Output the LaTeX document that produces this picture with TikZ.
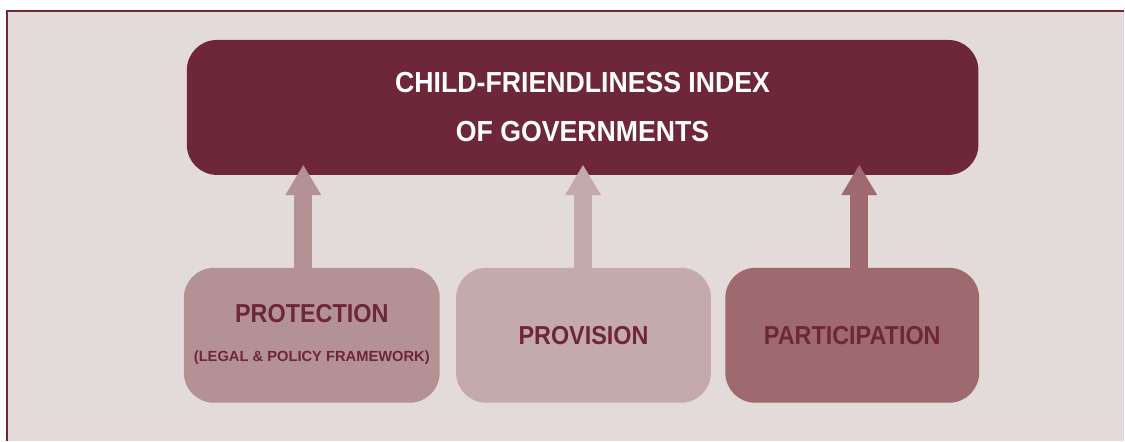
\documentclass[tikz,border=0pt]{standalone}
\usepackage{fontspec}
\setmainfont{Liberation Sans}
\newfontfamily\headfont{Liberation Sans}[FakeStretch=0.9]
\newfontfamily\titlefont{Liberation Sans}[FakeStretch=0.92]
\usetikzlibrary{arrows.meta, positioning}
\definecolor{cfiMaroon}{RGB}{110,38,57}
\definecolor{cfiBack}{RGB}{227,219,218}
\definecolor{protColor}{RGB}{180,145,148}
\definecolor{provColor}{RGB}{196,170,172}
\definecolor{partColor}{RGB}{158,106,111}
\tikzset{
    pillar/.style={rounded corners=30pt, minimum height=135pt, inner sep=0pt},
    pillar text/.style={anchor=base, text=cfiMaroon, font=\headfont\bfseries\fontsize{26}{28}\selectfont},
    small text/.style={anchor=base, text=cfiMaroon, font=\bfseries\fontsize{14.7}{16}\selectfont},
    lift/.style={line width=18pt, -{Triangle[width=36pt,length=30pt,line width=0pt]}}
}

\begin{document}
\begin{tikzpicture}[x=1pt,y=-1pt]
    % backdrop, ruled on top and left only
    \fill[cfiBack] (7,11) rectangle (1125,441);
    \draw[cfiMaroon, line width=1.5pt] (7,441) -- (7,11) -- (1125,11);
    \useasboundingbox (0,0) rectangle (1125,441);

    % the index on top
    \node[pillar, fill=cfiMaroon, minimum width=792pt, align=center, text=white,
          font=\titlefont\bfseries\fontsize{29}{49}\selectfont] (index) at (583,107.5)
          {CHILD-FRIENDLINESS INDEX\\OF GOVERNMENTS};

    % the three pillars
    \node[pillar, fill=protColor, minimum width=256pt] (prot) at (312,335.5) {};
    \node[pillar, fill=provColor, minimum width=255pt, right=16pt of prot] (prov) {};
    \node[pillar, fill=partColor, minimum width=254pt, right=14pt of prov] (part) {};

    \node[pillar text] (protLabel) at ([yshift=12.5pt]prot.center) {PROTECTION};
    \node[small text] (protSub) at ([yshift=-26.5pt]prot.center) {(LEGAL \& POLICY FRAMEWORK)};
    \node[pillar text] (provLabel) at ([yshift=-9.5pt]prov.center) {PROVISION};
    \node[pillar text] (partLabel) at ([yshift=-9.5pt]part.center) {PARTICIPATION};

    % arrows up into the index
    \draw[lift, protColor] ([xshift=-8.5pt]prot.north) -- ([xshift=-8.5pt,yshift=10pt]prot.north |- index.south);
    \draw[lift, provColor] ([xshift=-0.5pt]prov.north) -- ([xshift=-0.5pt,yshift=10pt]prov.north |- index.south);
    \draw[lift, partColor] ([xshift=7pt]part.north) -- ([xshift=7pt,yshift=10pt]part.north |- index.south);
\end{tikzpicture}
\end{document}
